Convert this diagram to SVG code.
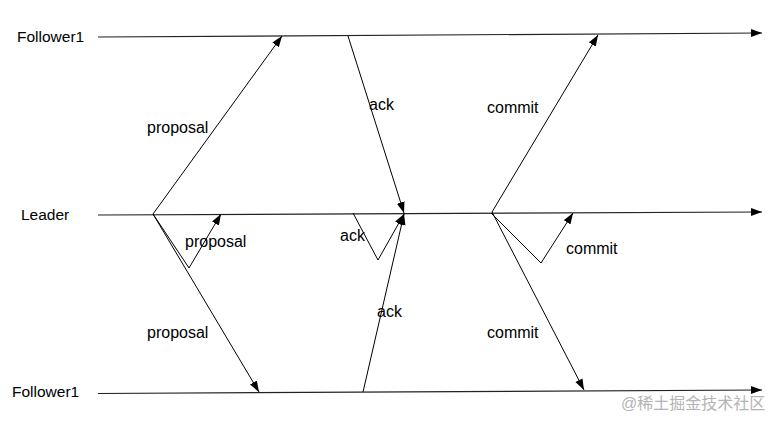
<svg xmlns="http://www.w3.org/2000/svg" width="783" height="427" viewBox="0 0 783 427">
<style>
.lbl{font-family:"Liberation Sans",Arial,sans-serif;font-size:16px;fill:#000}
.name{font-family:"Liberation Sans",Arial,sans-serif;font-size:15.5px;fill:#000}
.wm{font-family:"Liberation Sans","Noto Sans CJK SC",sans-serif;font-size:16px;fill:#b4b4b4}
.ln{fill:none;stroke:#000;stroke-width:1;marker-end:url(#ah)}
.tl{fill:none;stroke:#222;stroke-width:1.2;marker-end:url(#ah)}
</style>
<defs>
<marker id="ah" markerUnits="userSpaceOnUse" markerWidth="12" markerHeight="10" refX="11" refY="4" orient="auto">
<path d="M0,0 L11,4 L0,8 Z" fill="#000"/>
</marker>
</defs>
<rect width="783" height="427" fill="#fff"/>
<g id="follower-top">
<text class="name" x="17" y="42">Follower1</text>
</g>
<g id="leader">
<text class="name" x="21" y="220">Leader</text>
</g>
<g id="follower-bottom">
<text class="name" x="12" y="397">Follower1</text>
</g>
<g id="connectors">
<line class="tl" x1="98" y1="37" x2="762" y2="33"/>
<line class="tl" x1="98" y1="215" x2="762" y2="212"/>
<line class="tl" x1="98" y1="393.5" x2="762" y2="390"/>
<line class="ln" x1="153" y1="214" x2="282" y2="36"/>
<line class="ln" x1="348" y1="36" x2="404" y2="213"/>
<line class="ln" x1="492" y1="212" x2="598" y2="35"/>
<line class="ln" x1="153" y1="214" x2="259" y2="392"/>
<line class="ln" x1="363" y1="392" x2="404" y2="214"/>
<line class="ln" x1="492" y1="212" x2="584" y2="390"/>
<polyline class="ln" points="153,214 189,268 221,214"/>
<polyline class="ln" points="353,213 378,260 404,214"/>
<polyline class="ln" points="491,213 541,263 573,213"/>
</g>
<g id="labels">
<text class="lbl" x="147" y="133">proposal</text>
<text class="lbl" x="369" y="110">ack</text>
<text class="lbl" x="487" y="113">commit</text>
<text class="lbl" x="185" y="247">proposal</text>
<text class="lbl" x="340" y="241">ack</text>
<text class="lbl" x="566" y="254">commit</text>
<text class="lbl" x="147" y="338">proposal</text>
<text class="lbl" x="377" y="317">ack</text>
<text class="lbl" x="487" y="338">commit</text>
</g>
<text class="wm" x="621" y="409">@稀土掘金技术社区</text>
</svg>
